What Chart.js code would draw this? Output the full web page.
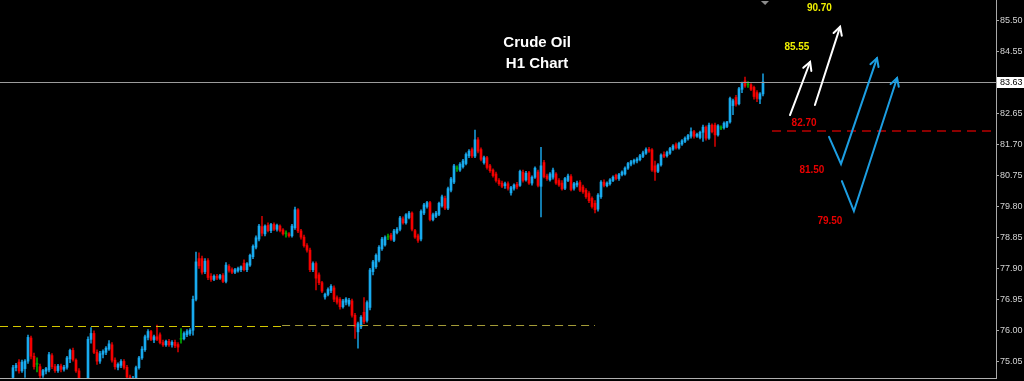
<!DOCTYPE html>
<html>
<head>
<meta charset="utf-8">
<script src="https://cdn.jsdelivr.net/npm/chart.js@4.4.1/dist/chart.umd.min.js"></script>
<style>
  html, body { margin: 0; padding: 0; background: #000; overflow: hidden; }
</style>
</head>
<body>
<canvas id="oil" width="1024" height="381"></canvas>
<script>
// H1 candles, oldest first
const opens = [
  74.55, 74.85, 75.02, 74.75, 74.82, 75.05, 75.76, 75.20, 74.95, 74.88,
  74.62, 74.74, 74.78, 75.22, 74.88, 74.76, 74.90, 74.80, 74.86, 75.12,
  75.38, 75.08, 74.75, 74.45, 74.32, 74.42, 75.72, 75.90, 75.32, 75.05,
  75.26, 75.32, 75.42, 75.55, 75.08, 74.86, 74.92, 75.04, 74.86, 74.56,
  74.44, 74.50, 74.85, 75.15, 75.40, 75.78, 75.96, 75.70, 75.80, 75.86,
  75.62, 75.55, 75.66, 75.55, 75.63, 75.56, 75.72, 75.74, 75.86, 75.90,
  76.00, 76.95, 78.20, 78.20, 77.80, 78.14, 77.66, 77.56, 77.66, 77.60,
  77.68, 77.50, 77.96, 77.86, 77.78, 77.82, 77.86, 78.06, 77.86, 78.00,
  78.26, 78.55, 78.80, 79.18, 78.96, 79.22, 79.06, 79.25, 79.10, 79.20,
  79.08, 78.96, 78.96, 78.90, 79.15, 79.70, 79.05, 78.86, 78.60, 78.46,
  77.86, 78.05, 77.70, 77.46, 77.02, 77.10, 77.22, 77.30, 77.00, 76.95,
  76.72, 76.86, 76.80, 76.90, 76.46, 75.95, 76.10, 76.55, 76.30, 76.70,
  77.80, 77.95, 78.15, 78.50, 78.62, 78.86, 78.92, 78.76, 79.00, 79.10,
  79.42, 79.30, 79.46, 79.60, 79.06, 78.90, 78.80, 79.60, 79.80, 79.92,
  79.40, 79.50, 79.56, 79.82, 80.05, 79.75, 80.30, 80.55, 80.96, 80.92,
  81.02, 81.12, 81.36, 81.55, 81.35, 81.85, 81.55, 81.15, 81.30, 81.05,
  80.92, 80.80, 80.60, 80.52, 80.44, 80.50, 80.22, 80.36, 80.48, 80.45,
  80.85, 80.62, 80.84, 80.52, 80.70, 80.86, 80.42, 81.15, 80.74, 80.62,
  80.70, 80.80, 80.60, 80.52, 80.36, 80.60, 80.72, 80.36, 80.46, 80.54,
  80.40, 80.30, 80.20, 80.05, 79.90, 79.72, 80.10, 80.55, 80.44, 80.50,
  80.60, 80.76, 80.66, 80.78, 80.80, 80.98, 81.10, 81.16, 81.20, 81.24,
  81.34, 81.44, 81.56, 81.54, 81.05, 80.88, 81.08, 81.40, 81.36, 81.44,
  81.56, 81.70, 81.60, 81.72, 81.80, 81.88, 81.96, 82.10, 81.96, 81.92,
  82.08, 82.24, 81.90, 82.30, 82.30, 82.00, 82.20, 82.22, 82.26, 82.40,
  82.90, 83.15, 82.96, 83.40, 83.66, 83.54, 83.54, 83.46, 83.30, 83.10, 83.26
]
const highs = [
  74.92, 74.98, 75.10, 75.08, 75.10, 75.85, 75.82, 75.30, 75.15, 74.96,
  74.80, 74.86, 75.32, 75.28, 74.95, 74.95, 74.96, 74.92, 75.20, 75.42,
  75.45, 75.12, 74.82, 74.52, 74.50, 75.80, 76.08, 75.98, 75.40, 75.35,
  75.40, 75.50, 75.68, 75.62, 75.15, 75.00, 75.10, 75.10, 74.92, 74.62,
  74.58, 74.90, 75.20, 75.50, 75.85, 76.02, 76.00, 75.85, 76.16, 75.92,
  75.70, 75.70, 75.72, 75.68, 75.70, 75.62, 76.05, 75.95, 76.02, 76.05,
  77.05, 78.40, 78.38, 78.28, 78.20, 78.20, 77.74, 77.70, 77.72, 77.72,
  77.74, 78.08, 78.02, 77.92, 77.90, 77.94, 77.98, 78.16, 78.08, 78.34,
  78.62, 78.90, 79.25, 79.50, 79.24, 79.30, 79.28, 79.30, 79.26, 79.24,
  79.12, 79.05, 79.00, 79.25, 79.78, 79.74, 79.10, 78.92, 78.66, 78.52,
  78.10, 78.10, 77.76, 77.50, 77.14, 77.30, 77.40, 77.36, 77.06, 77.00,
  76.95, 77.00, 76.98, 76.96, 76.52, 76.25, 76.45, 77.00, 76.90, 77.90,
  78.15, 78.35, 78.60, 78.85, 78.90, 78.95, 78.98, 79.10, 79.15, 79.50,
  79.48, 79.58, 79.65, 79.64, 79.10, 78.95, 79.70, 79.90, 79.96, 79.96,
  79.60, 79.65, 79.94, 80.15, 80.12, 80.40, 80.70, 81.10, 81.05, 81.15,
  81.25, 81.45, 81.55, 81.60, 82.15, 81.92, 81.60, 81.35, 81.34, 81.10,
  80.96, 80.86, 80.66, 80.58, 80.55, 80.56, 80.42, 80.50, 80.54, 80.92,
  80.92, 80.88, 80.88, 80.74, 81.02, 80.92, 81.62, 81.22, 80.80, 80.84,
  80.98, 80.84, 80.66, 80.60, 80.70, 80.80, 80.78, 80.54, 80.58, 80.60,
  80.46, 80.35, 80.26, 80.10, 79.98, 80.20, 80.60, 80.62, 80.56, 80.66,
  80.74, 80.80, 80.82, 80.90, 81.02, 81.16, 81.22, 81.26, 81.30, 81.40,
  81.50, 81.60, 81.62, 81.58, 81.20, 81.12, 81.42, 81.48, 81.50, 81.62,
  81.70, 81.76, 81.78, 81.86, 81.94, 82.02, 82.22, 82.14, 82.06, 82.12,
  82.30, 82.28, 82.36, 82.34, 82.36, 82.32, 82.28, 82.40, 82.42, 83.16,
  83.10, 83.22, 83.46, 83.62, 83.78, 83.64, 83.58, 83.50, 83.36, 83.30, 83.88
]
const lows = [
  74.45, 74.75, 74.68, 74.70, 74.55, 74.98, 75.12, 74.80, 74.72, 74.50,
  74.55, 74.66, 74.72, 74.82, 74.70, 74.70, 74.72, 74.74, 74.80, 75.00,
  75.05, 74.70, 74.40, 74.25, 74.22, 74.38, 75.60, 75.28, 74.95, 74.98,
  75.15, 75.25, 75.38, 75.02, 74.80, 74.78, 74.85, 74.80, 74.50, 74.35,
  74.30, 74.45, 74.80, 75.10, 75.35, 75.70, 75.68, 75.62, 75.68, 75.58,
  75.50, 75.50, 75.50, 75.48, 75.46, 75.33, 75.60, 75.70, 75.80, 75.84,
  75.85, 76.90, 77.90, 77.72, 77.74, 77.55, 77.50, 77.52, 77.55, 77.56,
  77.46, 77.45, 77.78, 77.74, 77.74, 77.78, 77.80, 77.82, 77.80, 77.96,
  78.20, 78.50, 78.74, 78.90, 78.90, 79.02, 79.00, 79.06, 79.04, 79.02,
  78.92, 78.86, 78.86, 78.86, 79.10, 79.00, 78.80, 78.55, 78.40, 77.80,
  77.80, 77.24, 77.40, 77.15, 76.95, 77.05, 77.15, 76.88, 76.80, 76.65,
  76.68, 76.78, 76.74, 76.40, 75.75, 75.45, 76.05, 76.20, 76.25, 76.62,
  77.70, 77.90, 78.10, 78.45, 78.58, 78.78, 78.76, 78.72, 78.96, 79.05,
  79.26, 79.26, 79.42, 79.05, 78.82, 78.70, 78.74, 79.55, 79.75, 79.36,
  79.36, 79.46, 79.52, 79.78, 79.70, 79.70, 80.25, 80.50, 80.88, 80.88,
  80.98, 81.08, 81.30, 81.30, 81.30, 81.45, 81.20, 81.10, 80.95, 80.85,
  80.70, 80.55, 80.45, 80.38, 80.36, 80.30, 80.15, 80.30, 80.34, 80.42,
  80.55, 80.58, 80.48, 80.46, 80.66, 80.40, 79.48, 80.68, 80.60, 80.58,
  80.64, 80.48, 80.42, 80.30, 80.32, 80.56, 80.28, 80.30, 80.40, 80.26,
  80.20, 80.05, 79.92, 79.75, 79.60, 79.66, 80.05, 80.40, 80.40, 80.46,
  80.56, 80.62, 80.60, 80.74, 80.76, 80.94, 81.05, 81.10, 81.14, 81.20,
  81.30, 81.40, 81.46, 80.88, 80.60, 80.84, 81.04, 81.30, 81.32, 81.40,
  81.52, 81.56, 81.56, 81.68, 81.76, 81.84, 81.90, 81.90, 81.92, 81.88,
  81.80, 81.84, 81.86, 82.06, 81.65, 81.96, 82.16, 82.18, 82.22, 82.36,
  82.62, 82.88, 82.92, 83.30, 83.46, 83.46, 83.36, 83.10, 83.02, 82.96, 83.20
]
const closes = [
  74.85, 74.92, 74.75, 75.02, 75.05, 75.78, 75.20, 74.88, 74.95, 74.60,
  74.76, 74.82, 75.25, 74.88, 74.76, 74.90, 74.80, 74.86, 75.15, 75.38,
  75.10, 74.75, 74.45, 74.32, 74.42, 75.72, 75.90, 75.32, 75.05, 75.28,
  75.35, 75.45, 75.58, 75.08, 74.88, 74.95, 75.04, 74.86, 74.56, 74.42,
  74.50, 74.85, 75.15, 75.42, 75.80, 75.96, 75.72, 75.80, 75.72, 75.62,
  75.55, 75.66, 75.55, 75.63, 75.52, 75.48, 75.72, 75.90, 75.96, 76.00,
  76.95, 78.10, 77.98, 77.78, 78.12, 77.62, 77.56, 77.66, 77.60, 77.68,
  77.50, 78.00, 77.84, 77.78, 77.86, 77.90, 77.95, 77.86, 78.04, 78.30,
  78.58, 78.84, 79.20, 78.98, 79.20, 79.06, 79.25, 79.10, 79.22, 79.06,
  78.96, 78.96, 78.90, 79.20, 79.70, 79.05, 78.86, 78.60, 78.46, 77.86,
  78.05, 77.60, 77.46, 77.20, 77.10, 77.25, 77.35, 76.95, 76.86, 76.72,
  76.90, 76.96, 76.92, 76.46, 76.10, 76.20, 76.40, 76.26, 76.85, 77.85,
  78.10, 78.30, 78.55, 78.80, 78.85, 78.86, 78.80, 79.05, 79.10, 79.45,
  79.30, 79.55, 79.60, 79.10, 78.86, 78.76, 79.65, 79.85, 79.92, 79.40,
  79.55, 79.60, 79.90, 80.10, 79.75, 80.35, 80.65, 81.05, 80.96, 81.10,
  81.20, 81.40, 81.50, 81.35, 81.85, 81.50, 81.25, 81.30, 81.00, 80.90,
  80.75, 80.60, 80.50, 80.42, 80.50, 80.36, 80.38, 80.46, 80.40, 80.88,
  80.60, 80.82, 80.52, 80.70, 80.98, 80.45, 81.05, 80.72, 80.66, 80.80,
  80.92, 80.52, 80.46, 80.34, 80.66, 80.74, 80.32, 80.50, 80.52, 80.30,
  80.25, 80.10, 79.98, 79.80, 79.70, 80.15, 80.55, 80.45, 80.52, 80.62,
  80.70, 80.66, 80.78, 80.86, 80.98, 81.12, 81.18, 81.22, 81.26, 81.36,
  81.45, 81.55, 81.50, 80.92, 80.86, 81.08, 81.38, 81.34, 81.46, 81.58,
  81.66, 81.60, 81.74, 81.82, 81.90, 81.98, 82.10, 81.96, 82.02, 82.08,
  82.24, 81.90, 82.30, 82.10, 82.00, 82.28, 82.20, 82.36, 82.40, 83.12,
  83.05, 82.94, 83.42, 83.58, 83.50, 83.54, 83.40, 83.18, 83.12, 83.26, 83.63
]

// right price scale
const priceTicks = [85.50, 84.55, 82.65, 81.70, 80.75, 79.80, 78.85, 77.90, 76.95, 76.00, 75.05]

// drawn levels and targets
const supportLevel = 76.12
const pivotLevel = 82.13
const targetLabels = ['90.70', '85.55', '82.70', '81.50', '79.50']
const titleLines = ['Crude Oil', 'H1 Chart']

const UP = '#18aaee', DOWN = '#f40000', DOJI = '#00a800'
const candleColor = opens.map((o, i) => closes[i] > o ? UP : (closes[i] < o ? DOWN : DOJI))
const wickColor = opens.map((o, i) => closes[i] > o ? '#1694d0' : (closes[i] < o ? '#c80000' : DOJI))

const bodies = opens.map((o, i) => ({ x: i, y: [o, closes[i]] }))
const wicks = opens.map((o, i) => ({ x: i, y: [lows[i], highs[i]] }))

const drawArrow = (ctx, pts, color) => {
  ctx.save()
  ctx.strokeStyle = color
  ctx.lineWidth = 2
  ctx.lineCap = 'round'
  ctx.lineJoin = 'miter'
  ctx.beginPath()
  pts.forEach((p, k) => k ? ctx.lineTo(p[0], p[1]) : ctx.moveTo(p[0], p[1]))
  ctx.stroke()
  const a = pts[pts.length - 2], b = pts[pts.length - 1]
  const ang = Math.atan2(b[1] - a[1], b[0] - a[0])
  ctx.beginPath()
  ctx.moveTo(b[0] - 9 * Math.cos(ang - 0.5), b[1] - 9 * Math.sin(ang - 0.5))
  ctx.lineTo(b[0], b[1])
  ctx.lineTo(b[0] - 9 * Math.cos(ang + 0.5), b[1] - 9 * Math.sin(ang + 0.5))
  ctx.stroke()
  ctx.restore()
}

const marks = {
  id: 'marks',
  beforeDraw: (chart) => {
    const {ctx} = chart
    ctx.save()
    ctx.fillStyle = '#000'
    ctx.fillRect(0, 0, chart.width, chart.height)
    ctx.restore()
  },
  afterDatasetsDraw: (chart) => {
    const {ctx, chartArea} = chart
    const x = chart.scales.x, y = chart.scales.y
    const px = v => x.getPixelForValue(v)
    const py = v => y.getPixelForValue(v)
    const last = closes[closes.length - 1]

    ctx.save()
    // support dashed line (yellow, then dimmer continuation)
    ctx.lineWidth = 1
    ctx.setLineDash([8, 5])
    ctx.strokeStyle = '#d4c800'
    ctx.beginPath()
    ctx.moveTo(chartArea.left, Math.round(py(supportLevel)) + 0.5)
    ctx.lineTo(px(89.7), Math.round(py(supportLevel)) + 0.5)
    ctx.stroke()
    ctx.strokeStyle = '#a49c38'
    ctx.beginPath()
    ctx.moveTo(px(89.7), Math.round(py(supportLevel + 0.03)) + 0.5)
    ctx.lineTo(px(194), Math.round(py(supportLevel + 0.03)) + 0.5)
    ctx.stroke()

    // pivot dashed line (dark red)
    ctx.lineWidth = 2
    ctx.setLineDash([9, 6])
    ctx.strokeStyle = '#8a0000'
    ctx.beginPath()
    ctx.moveTo(px(253), Math.round(py(pivotLevel)))
    ctx.lineTo(chartArea.right, Math.round(py(pivotLevel)))
    ctx.stroke()

    // last price line
    ctx.setLineDash([])
    ctx.lineWidth = 1
    ctx.strokeStyle = '#9c9c9c'
    ctx.beginPath()
    ctx.moveTo(chartArea.left, Math.round(py(last)) + 0.5)
    ctx.lineTo(chartArea.right, Math.round(py(last)) + 0.5)
    ctx.stroke()

    // arrows (bar index, price)
    const toPx = path => path.map(p => [px(p[0]), py(p[1])])
    drawArrow(ctx, toPx([[259, 82.61], [265.7, 84.24]]), '#ffffff')
    drawArrow(ctx, toPx([[267.3, 82.92], [275.7, 85.32]]), '#ffffff')
    drawArrow(ctx, toPx([[272, 81.94], [276, 81.11], [288, 84.36]]), '#1c9ee2')
    drawArrow(ctx, toPx([[276.3, 80.58], [280.3, 79.66], [294.7, 83.75]]), '#1c9ee2')

    // target labels
    ctx.font = 'bold 10px "Liberation Sans", Arial, sans-serif'
    ctx.textAlign = 'center'
    ctx.textBaseline = 'middle'
    const labelPos = [[268.8, 85.90], [261.3, 84.69], [263.7, 82.35], [266.3, 80.92], [272.3, 79.34]]
    const labelCol = ['#f0f000', '#f0f000', '#e80000', '#e80000', '#e80000']
    targetLabels.forEach((t, k) => {
      ctx.fillStyle = labelCol[k]
      ctx.fillText(t, px(labelPos[k][0]), py(labelPos[k][1]))
    })

    // title
    ctx.font = 'bold 15px "Liberation Sans", Arial, sans-serif'
    ctx.fillStyle = '#ffffff'
    ctx.fillText(titleLines[0], px(174.7), py(84.83))
    ctx.fillText(titleLines[1], px(174.7), py(84.18))

    // chart shift marker
    ctx.fillStyle = '#8c8c8c'
    ctx.beginPath()
    ctx.moveTo(px(249.3), chartArea.top + 1)
    ctx.lineTo(px(252.0), chartArea.top + 1)
    ctx.lineTo(px(250.7), chartArea.top + 5)
    ctx.closePath()
    ctx.fill()
    ctx.restore()
  },
  afterDraw: (chart) => {
    const {ctx, chartArea} = chart
    const last = closes[closes.length - 1]
    const yy = Math.round(chart.scales.y.getPixelForValue(last))
    ctx.save()
    ctx.fillStyle = '#ffffff'
    ctx.fillRect(chartArea.right + 1, yy - 5, chart.width - chartArea.right - 1, 11)
    ctx.fillStyle = '#000000'
    ctx.font = '9px "Liberation Sans", Arial, sans-serif'
    ctx.textAlign = 'left'
    ctx.textBaseline = 'middle'
    ctx.fillText(last.toFixed(2), chartArea.right + 4, yy + 0.5)
    // bottom border
    ctx.strokeStyle = '#b0b0b0'
    ctx.lineWidth = 1
    ctx.beginPath()
    ctx.moveTo(chartArea.left, chartArea.bottom + 0.5)
    ctx.lineTo(chartArea.right, chartArea.bottom + 0.5)
    ctx.stroke()
    ctx.restore()
  }
}

new Chart(document.getElementById('oil'), {
  type: 'bar',
  data: {
    datasets: [
      {
        data: bodies,
        backgroundColor: candleColor,
        barThickness: 2,
        minBarLength: 1,
        grouped: false,
        borderWidth: 0
      },
      {
        data: wicks,
        backgroundColor: wickColor,
        barThickness: 1,
        grouped: false,
        borderWidth: 0
      }
    ]
  },
  options: {
    responsive: false,
    devicePixelRatio: 1,
    animation: false,
    events: [],
    layout: { padding: { left: 0, right: 0, top: 0, bottom: 3 } },
    plugins: {
      legend: { display: false },
      tooltip: { enabled: false }
    },
    scales: {
      x: {
        type: 'linear',
        display: false,
        offset: false,
        grid: { offset: false },
        min: -13 / 3,
        max: 983 / 3
      },
      y: {
        position: 'right',
        min: 74.532,
        max: 86.145,
        afterBuildTicks: (s) => { s.ticks = priceTicks.map(v => ({ value: v })) },
        afterFit: (s) => {
          s.width = 28
          s.paddingTop = 0
          s.paddingBottom = 0
        },
        grid: { drawOnChartArea: false, drawTicks: true, tickLength: 3, color: '#a8a8a8' },
        border: { display: true, color: '#a8a8a8' },
        ticks: {
          color: '#d4d4d4',
          padding: 1,
          font: { family: '"Liberation Sans", Arial, sans-serif', size: 9 },
          callback: (v) => Number(v).toFixed(2)
        }
      }
    }
  },
  plugins: [marks]
})
</script>
</body>
</html>
